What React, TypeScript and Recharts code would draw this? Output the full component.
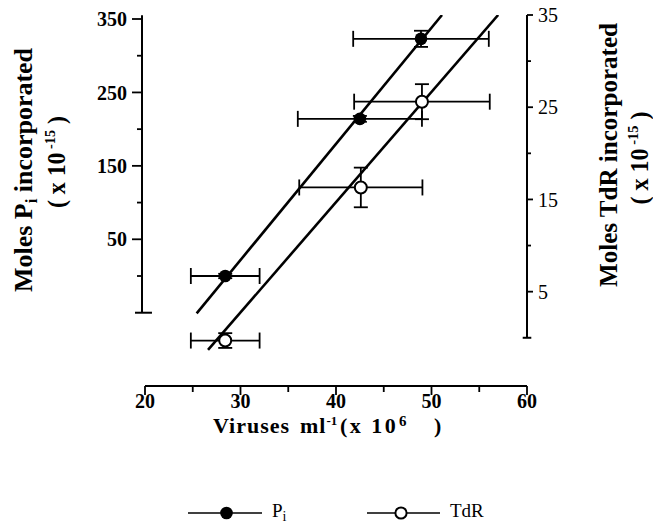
import React from 'react';
import { ComposedChart, XAxis, YAxis, Scatter, Line, ErrorBar, ReferenceLine } from 'recharts';

const xTicks = [20, 25, 30, 35, 40, 45, 50, 55, 60];
const xMajor = [20, 30, 40, 50, 60];
const leftTicks = [350, 300, 250, 200, 150, 100, 50, 0];
const leftMajor = [350, 250, 150, 50];
const rightTicks = [35, 30, 25, 20, 15, 10, 5];
const rightMajor = [35, 25, 15, 5];

const piPoints = [
  { x: 28.4, y: 0, ex: 3.6, ey: 3 },
  { x: 42.5, y: 214, ex: 6.5, ey: 4 },
  { x: 48.9, y: 323, ex: 7.1, ey: 11 },
];
const tdrPoints = [
  { x: 28.4, y: -0.3, ex: 3.6, ey: 0.8 },
  { x: 42.6, y: 16.3, ex: 6.45, ey: 2.15 },
  { x: 49.0, y: 25.6, ex: 7.1, ey: 1.9 },
];
const piFit = [
  { x: 25.41, y: -50.8 },
  { x: 51.1, y: 355.4 },
];
const tdrFit = [
  { x: 26.6, y: -1.32 },
  { x: 56.98, y: 35 },
];

const X_DOMAIN: [number, number] = [19.686, 60];
const LEFT_DOMAIN: [number, number] = [-149.8, 355.45];
const RIGHT_DOMAIN: [number, number] = [-5.23, 35];

const FONT = '"Liberation Serif", "Times New Roman", Times, serif';
const INK = '#000';

const LeftTick = (props: any) => {
  const { x, y, payload } = props;
  const major = leftMajor.includes(payload.value);
  return (
    <g>
      <line x1={x - (major ? 10 : 5)} x2={x} y1={y} y2={y} stroke={INK} strokeWidth={1.8} />
      {major && (
        <text x={x - 15} y={y} dy="0.36em" textAnchor="end" fontFamily={FONT} fontWeight="bold" fontSize={20} fill={INK}>
          {payload.value}
        </text>
      )}
    </g>
  );
};

const RightTick = (props: any) => {
  const { x, y, payload } = props;
  const major = rightMajor.includes(payload.value);
  return (
    <g>
      <line x1={x} x2={x + (major ? 6 : 4)} y1={y} y2={y} stroke={INK} strokeWidth={1.8} />
      {major && (
        <text x={x + 11} y={y} dy="0.36em" textAnchor="start" fontFamily={FONT} fontSize={20} fill={INK}>
          {payload.value}
        </text>
      )}
    </g>
  );
};

const BottomTick = (props: any) => {
  const { x, y, payload } = props;
  const major = xMajor.includes(payload.value);
  return (
    <g>
      <line x1={x} x2={x} y1={y} y2={y + (major ? 9 : 6)} stroke={INK} strokeWidth={1.8} />
      {major && (
        <text x={x} y={y + 22} textAnchor="middle" fontFamily={FONT} fontWeight="bold" fontSize={20} fill={INK}>
          {payload.value}
        </text>
      )}
    </g>
  );
};

const FilledDot = (props: any) => <circle cx={props.cx} cy={props.cy} r={6.3} fill={INK} />;
const OpenDot = (props: any) => (
  <circle cx={props.cx} cy={props.cy} r={6} fill="#fff" stroke={INK} strokeWidth={2} />
);

const Overlay = () => (
  <svg
    width={653}
    height={526}
    style={{ position: 'absolute', left: 0, top: 0, pointerEvents: 'none' }}
    fontFamily={FONT}
    fill={INK}
  >
    {/* left title */}
    <text transform="translate(32,170) rotate(-90)" textAnchor="middle" fontWeight="bold" fontSize={26} textLength={244} lengthAdjust="spacingAndGlyphs">
      Moles P<tspan fontSize={17} dy={5}>i</tspan>
      <tspan dy={-5}> incorporated</tspan>
    </text>
    <text transform="translate(65,162) rotate(-90)" textAnchor="middle" fontWeight="bold" fontSize={25} textLength={92} lengthAdjust="spacingAndGlyphs">
      ( x 10<tspan fontSize={15} dy={-10}> -15</tspan>
      <tspan dy={10}> )</tspan>
    </text>
    {/* right title */}
    <text transform="translate(617,155) rotate(-90)" textAnchor="middle" fontWeight="bold" fontSize={26} textLength={264} lengthAdjust="spacingAndGlyphs">
      Moles TdR incorporated
    </text>
    <text transform="translate(648,158) rotate(-90)" textAnchor="middle" fontWeight="bold" fontSize={25} textLength={93} lengthAdjust="spacingAndGlyphs">
      ( x 10<tspan fontSize={15} dy={-10}> -15</tspan>
      <tspan dy={10}> )</tspan>
    </text>
    {/* x title */}
    <text y={433} fontWeight="bold" fontSize={22}>
      <tspan x={213} letterSpacing={1}>Viruses</tspan>
      <tspan x={300} letterSpacing={1}>ml</tspan>
      <tspan fontSize={13} dy={-8}>-1</tspan>
      <tspan x={340} dy={8} letterSpacing={2.5}>(x 10</tspan>
      <tspan x={399} fontSize={15} dy={-7}>6</tspan>
      <tspan x={434} dy={7}>)</tspan>
    </text>
    {/* legend */}
    <line x1={188} x2={262} y1={513} y2={513} stroke={INK} strokeWidth={1.6} />
    <circle cx={226.5} cy={513} r={6.3} fill={INK} />
    <text x={272} y={517} fontSize={19}>
      P<tspan fontSize={14} dy={4}>i</tspan>
    </text>
    <line x1={367} x2={440} y1={513} y2={513} stroke={INK} strokeWidth={1.6} />
    <circle cx={401} cy={513} r={5.6} fill="#fff" stroke={INK} strokeWidth={2} />
    <text x={450} y={517} fontSize={19}>
      TdR
    </text>
  </svg>
);

export default function App() {
  return (
    <div style={{ position: 'absolute', left: 0, top: 0, width: 653, height: 526, background: '#fff' }}>
      <ComposedChart width={653} height={526} margin={{ top: 15, right: 66, bottom: 110, left: 82 }}>
        <XAxis
          type="number"
          dataKey="x"
          domain={X_DOMAIN}
          allowDataOverflow
          ticks={xTicks}
          interval={0}
          axisLine={false}
          tickLine={false}
          tickSize={0}
          tickMargin={0}
          height={30}
          tick={<BottomTick />}
        />
        <YAxis
          yAxisId="left"
          orientation="left"
          type="number"
          dataKey="y"
          domain={LEFT_DOMAIN}
          allowDataOverflow
          ticks={leftTicks}
          interval={0}
          axisLine={false}
          tickLine={false}
          tickSize={0}
          tickMargin={0}
          width={60}
          tick={<LeftTick />}
        />
        <YAxis
          yAxisId="right"
          orientation="right"
          type="number"
          dataKey="y"
          domain={RIGHT_DOMAIN}
          allowDataOverflow
          ticks={rightTicks}
          interval={0}
          axisLine={false}
          tickLine={false}
          tickSize={0}
          tickMargin={0}
          width={60}
          tick={<RightTick />}
        />
        {/* axis lines */}
        <ReferenceLine yAxisId="left" segment={[{ x: 20, y: LEFT_DOMAIN[0] }, { x: 60, y: LEFT_DOMAIN[0] }]} stroke={INK} strokeWidth={2} ifOverflow="visible" />
        <ReferenceLine yAxisId="left" segment={[{ x: X_DOMAIN[0], y: -50 }, { x: X_DOMAIN[0], y: 355 }]} stroke={INK} strokeWidth={2} ifOverflow="visible" />
        <ReferenceLine yAxisId="left" segment={[{ x: 18.95, y: -50 }, { x: 20.73, y: -50 }]} stroke={INK} strokeWidth={2} ifOverflow="visible" />
        <ReferenceLine yAxisId="right" segment={[{ x: 60, y: 0 }, { x: 60, y: 35 }]} stroke={INK} strokeWidth={2} ifOverflow="visible" />
        <ReferenceLine yAxisId="right" segment={[{ x: 59.55, y: 0 }, { x: 60.45, y: 0 }]} stroke={INK} strokeWidth={2} ifOverflow="visible" />
        {/* regression lines */}
        <Line yAxisId="left" data={piFit} dataKey="y" type="linear" stroke={INK} strokeWidth={2.6} dot={false} activeDot={false} isAnimationActive={false} />
        <Line yAxisId="right" data={tdrFit} dataKey="y" type="linear" stroke={INK} strokeWidth={2.6} dot={false} activeDot={false} isAnimationActive={false} />
        {/* data points */}
        <Scatter yAxisId="left" data={piPoints} dataKey="y" shape={<FilledDot />} isAnimationActive={false}>
          <ErrorBar dataKey="ex" direction="x" width={8} stroke={INK} strokeWidth={1.8} />
          <ErrorBar dataKey="ey" direction="y" width={7} stroke={INK} strokeWidth={1.8} />
        </Scatter>
        <Scatter yAxisId="right" data={tdrPoints} dataKey="y" shape={<OpenDot />} isAnimationActive={false}>
          <ErrorBar dataKey="ex" direction="x" width={8} stroke={INK} strokeWidth={1.8} />
          <ErrorBar dataKey="ey" direction="y" width={7} stroke={INK} strokeWidth={1.8} />
        </Scatter>
      </ComposedChart>
      <Overlay />
    </div>
  );
}
